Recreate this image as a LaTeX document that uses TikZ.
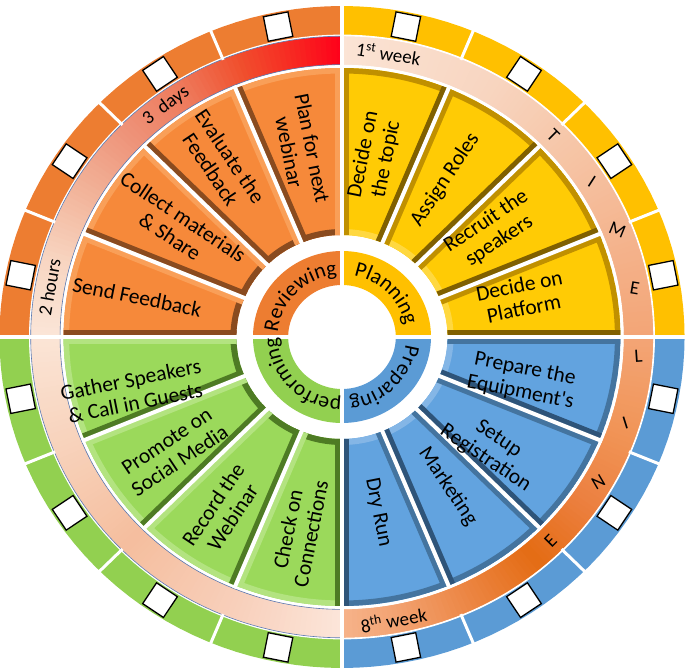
\documentclass[tikz,border=0pt]{standalone}
\usepackage{fontspec}
\setmainfont{Carlito}
\usetikzlibrary{decorations.text}

% band colours
\definecolor{orBand}{HTML}{ED7D31}
\definecolor{yeBand}{HTML}{FFC000}
\definecolor{blBand}{HTML}{5B9BD5}
\definecolor{grBand}{HTML}{92D050}
% wedge faces and bevels
\definecolor{orFace}{HTML}{F6893A}
\definecolor{orDark}{HTML}{8A4B1F}
\definecolor{orMid}{HTML}{B9622A}
\definecolor{orLight}{HTML}{F99F58}
\definecolor{yeFace}{HTML}{FFCB05}
\definecolor{yeDark}{HTML}{806000}
\definecolor{yeMid}{HTML}{C09000}
\definecolor{yeLight}{HTML}{FFD840}
\definecolor{blFace}{HTML}{62A3DF}
\definecolor{blDark}{HTML}{2E5479}
\definecolor{blMid}{HTML}{44749F}
\definecolor{blLight}{HTML}{84B6E6}
\definecolor{grFace}{HTML}{9BD95B}
\definecolor{grDark}{HTML}{4E7B24}
\definecolor{grMid}{HTML}{6E9F3A}
\definecolor{grLight}{HTML}{B3E380}
\definecolor{ringLine}{HTML}{5A78B0}
% timeline gradient stops
\definecolor{ta1}{HTML}{FBE6D8}
\definecolor{ta2}{HTML}{F8D6C2}
\definecolor{ta3}{HTML}{F2B49A}
\definecolor{ta4}{HTML}{EE9278}
\definecolor{ta5}{HTML}{EE7A5C}
\definecolor{ta6}{HTML}{F0502E}
\definecolor{ta7}{HTML}{F72A22}
\definecolor{ta8}{HTML}{FF001A}
\definecolor{tb1}{HTML}{FBE4D5}
\definecolor{tb2}{HTML}{F8D5C0}
\definecolor{tb3}{HTML}{F6C5A6}
\definecolor{tb4}{HTML}{F4B48E}
\definecolor{tb5}{HTML}{F3A576}
\definecolor{tb6}{HTML}{F19456}
\definecolor{tb7}{HTML}{EC8040}
\definecolor{tb8}{HTML}{E46C14}
\definecolor{tb9}{HTML}{EC8644}
\definecolor{tb10}{HTML}{F3A474}
\definecolor{tb11}{HTML}{F6B38A}
\definecolor{tc1}{HTML}{FCE6DA}
\definecolor{tc2}{HTML}{F8D0BC}
\definecolor{tc3}{HTML}{F5BE9E}
\definecolor{tc4}{HTML}{F8D4BE}
\definecolor{tc5}{HTML}{FBE5D6}

\newcommand\wfont{\fontsize{21.5}{23.5}\selectfont}
\newcommand\tfont{\fontsize{19}{21}\selectfont}

% ring segment: angles #1..#2, radii #3..#4
\newcommand\seg[4]{plot[domain=#1:#2,samples=36] (\x:#4) -- plot[domain=#2:#1,samples=36] (\x:#3) -- cycle}
\newcommand\sseg[4]{plot[domain=#1:#2,samples=3] (\x:#4) -- plot[domain=#2:#1,samples=3] (\x:#3) -- cycle}

% gradient along the timeline ring
\newcommand\gradarc[4]{%
  \pgfmathtruncatemacro\gsteps{max(1,round(abs(#2-#1)))}%
  \foreach \gi in {1,...,\gsteps}{%
    \pgfmathsetmacro\ga{#1+(#2-#1)*(\gi-1)/\gsteps}%
    \pgfmathsetmacro\gb{#1+(#2-#1)*(\gi+0.25)/\gsteps}%
    \pgfmathsetmacro\gp{100*(\gi-0.5)/\gsteps}%
    \fill[#4!\gp!#3] \sseg{\ga}{\gb}{272}{301};
  }}

% bevelled wedge: a b face outer inner lowside highside
\newcommand\wedgebox[7]{%
  \begin{scope}
    \clip \seg{#1}{#2}{102}{269};
    \fill[#3] \seg{#1}{#2}{102}{269};
    \draw[line width=11pt,#4] plot[domain=#1:#2,samples=30] (\x:269);
    \draw[line width=12pt,#5] plot[domain=#1:#2,samples=12] (\x:102);
    \draw[line width=14pt,#6] (#1:90) -- (#1:280);
    \draw[line width=14pt,#7] (#2:90) -- (#2:280);
  \end{scope}}

\tikzset{
  wtext/.style={font=\wfont, align=center, inner sep=0pt, text=black},
  ttext/.style={font=\tfont, inner sep=0pt, text=black},
  chk/.style={draw=black, line width=1.3pt, fill=white, minimum size=25pt, inner sep=0pt},
  sepline/.style={white, line width=4pt},
  bandsep/.style={white, line width=3pt}
}

\begin{document}
\begin{tikzpicture}[x=1.035pt,y=1pt]
\useasboundingbox (-330.43,-335) rectangle (337.2,337);

% outer band
\fill[orBand] \seg{90}{180}{302}{331};
\fill[yeBand] \seg{0}{90}{302}{331};
\fill[blBand] \seg{-90}{0}{302}{331};
\fill[grBand] \seg{-180}{-90}{302}{331};

% timeline ring (gradients)
\gradarc{180}{165}{ta1}{ta2}
\gradarc{165}{150}{ta2}{ta3}
\gradarc{150}{135}{ta3}{ta4}
\gradarc{135}{122}{ta4}{ta5}
\gradarc{122}{110}{ta5}{ta6}
\gradarc{110}{100}{ta6}{ta7}
\gradarc{100}{90}{ta7}{ta8}
\gradarc{90}{60}{tb1}{tb2}
\gradarc{60}{40}{tb2}{tb3}
\gradarc{40}{20}{tb3}{tb4}
\gradarc{20}{0}{tb4}{tb5}
\gradarc{0}{-20}{tb5}{tb6}
\gradarc{-20}{-35}{tb6}{tb7}
\gradarc{-35}{-50}{tb7}{tb8}
\gradarc{-50}{-65}{tb8}{tb9}
\gradarc{-65}{-80}{tb9}{tb10}
\gradarc{-80}{-90}{tb10}{tb11}
\gradarc{-90}{-110}{tc1}{tc2}
\gradarc{-110}{-135}{tc2}{tc3}
\gradarc{-135}{-160}{tc3}{tc4}
\gradarc{-160}{-180}{tc4}{tc5}

\draw[white, line width=1.6pt] plot[domain=-180:180,samples=240] (\x:301.6);
\draw[white, line width=1.2pt] plot[domain=-180:180,samples=240] (\x:271.6);
\draw[ringLine, line width=0.6pt] plot[domain=90:270,samples=120] (\x:300.8);
\draw[ringLine, line width=0.6pt] plot[domain=90:270,samples=120] (\x:272.4);

% wedges: top-left (orange)
\wedgebox{90}{112.5}{orFace}{orLight}{orDark}{orLight}{orDark}
\wedgebox{112.5}{135}{orFace}{orLight}{orDark}{orLight}{orDark}
\wedgebox{135}{157.5}{orFace}{orLight}{orDark}{orLight}{orDark}
\wedgebox{157.5}{180}{orFace}{orLight}{orDark}{orLight}{orDark}
% top-right (yellow)
\wedgebox{0}{22.5}{yeFace}{yeMid}{yeLight}{yeDark}{yeMid}
\wedgebox{22.5}{45}{yeFace}{yeMid}{yeLight}{yeDark}{yeMid}
\wedgebox{45}{67.5}{yeFace}{yeMid}{yeLight}{yeDark}{yeMid}
\wedgebox{67.5}{90}{yeFace}{yeMid}{yeLight}{yeDark}{yeMid}
% bottom-right (blue)
\wedgebox{-90}{-67.5}{blFace}{blMid}{blLight}{blDark}{blMid}
\wedgebox{-67.5}{-45}{blFace}{blMid}{blLight}{blDark}{blMid}
\wedgebox{-45}{-22.5}{blFace}{blMid}{blLight}{blDark}{blMid}
\wedgebox{-22.5}{0}{blFace}{blMid}{blLight}{blDark}{blMid}
% bottom-left (green)
\wedgebox{-180}{-157.5}{grFace}{grLight}{grDark}{grLight}{grDark}
\wedgebox{-157.5}{-135}{grFace}{grLight}{grDark}{grLight}{grDark}
\wedgebox{-135}{-112.5}{grFace}{grLight}{grDark}{grLight}{grDark}
\wedgebox{-112.5}{-90}{grFace}{grLight}{grDark}{grLight}{grDark}

% white separators
\foreach \t in {22.5,45,67.5,112.5,135,157.5,-22.5,-45,-67.5,-112.5,-135,-157.5}{
  \draw[sepline] (\t:98) -- (\t:272);
  \draw[bandsep] (\t:300) -- (\t:334);
}

% core ring
\fill[orBand] \seg{90}{180}{52}{86};
\fill[yeBand] \seg{0}{90}{52}{86};
\fill[blBand] \seg{-90}{0}{52}{86};
\fill[grBand] \seg{-180}{-90}{52}{86};

% quadrant gaps
\fill[white] (-340,-2) rectangle (340,2);
\fill[white] (-1.5,-340) rectangle (1.5,340);

% core labels
\path[decorate, decoration={text along path, text align=center, text={|\wfont|Reviewing}}]
  plot[domain=178:92,samples=60] (\x:62);
\path[decorate, decoration={text along path, text align=center, text={|\wfont|Planning}}]
  plot[domain=88:2,samples=60] (\x:62);
\path[decorate, decoration={text along path, text align=center, text={|\wfont|Preparing}}]
  plot[domain=-2:-88,samples=60] (\x:62);
\path[decorate, decoration={text along path, text align=center, text={|\wfont|performing}}]
  plot[domain=-92:-178,samples=60] (\x:62);

% checkboxes
\foreach \i in {0,...,15}{
  \pgfmathsetmacro\t{11.25+22.5*\i}
  \node[chk, rotate=\t-90] (cb\i) at (\t:316.5) {};
}

% wedge texts
\node[wtext, rotate=-11.25] (sendfb) at (168.6:202) {Send Feedback};
\node[wtext, rotate=-33.75] (collect) at (145.4:194) {Collect materials\\\& Share};
\node[wtext, rotate=-56.25] (evaluate) at (124:210) {Evaluate the\\Feedback};
\node[wtext, rotate=-78.75] (plannext) at (102:191) {Plan for next\\webinar};

\node[wtext, rotate=78.75] (topic) at (80:183) {Decide on\\the topic};
\node[wtext, rotate=56.25] (roles) at (57.6:186) {Assign Roles};
\node[wtext, rotate=33.75] (recruit) at (36:180) {Recruit the\\speakers};
\node[wtext, rotate=11.25] (platform) at (13:178) {Decide on\\Platform};

\node[wtext, rotate=-11.25] (equip) at (-14:180) {Prepare the\\Equipment\textquotesingle s};
\node[wtext, rotate=-33.75] (regist) at (-37.7:183) {Setup\\Registration};
\node[wtext, rotate=-56.25] (market) at (-55.6:181) {Marketing};
\node[wtext, rotate=-78.75] (dryrun) at (-78.8:179) {Dry Run};

\node[wtext, rotate=11.25] (gather) at (-165:209) {Gather Speakers\\\& Call in Guests};
\node[wtext, rotate=33.75] (promote) at (-145:199) {Promote on\\Social Media};
\node[wtext, rotate=56.25] (record) at (-123.5:208.6) {Record the\\Webinar};
\node[wtext, rotate=78.75] (connect) at (-102:198.6) {Check on\\Connections};

% timeline texts
\node[ttext, rotate=80] (twohours) at (170:287) {2 hours};
\node[ttext, rotate=36.3] (threedays) at (126.3:287) {3~~days};
\node[ttext, rotate=-9] (firstweek) at (81:287) {1\textsuperscript{st} week};
\node[ttext, rotate=10] (eighthweek) at (-80:287) {8\textsuperscript{th} week};
\foreach \ang/\ch [count=\k] in {44.7/T,32.7/I,22/M,9.8/E,-3.8/L,-17.5/I,-30.3/N,-45.4/E}{
  \node[ttext, rotate={0-(\ang)}] (tl\k) at (\ang:287) {\ch};
}
\end{tikzpicture}
\end{document}
